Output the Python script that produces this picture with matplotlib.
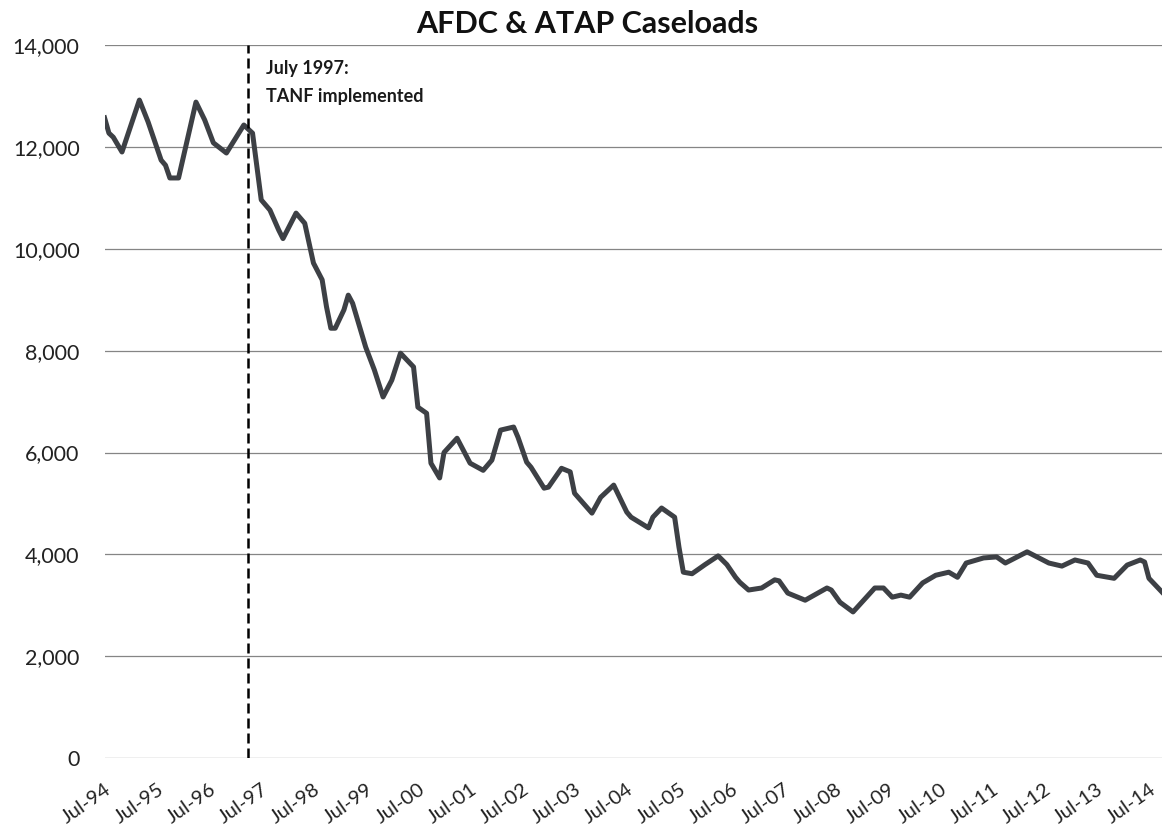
import matplotlib
matplotlib.use('Agg')
import matplotlib.pyplot as plt
import numpy as np

# Data =================================================================================================
# months counted from Jul-94 (0 = Jul-94)
months = [0, 1, 2, 4, 8, 10, 13, 14, 15, 17, 21, 23, 25, 28, 32, 34, 36, 38, 40, 41,
          44, 46, 48, 50, 51, 52, 53, 55, 56, 57, 60, 62, 64, 66, 68, 71, 72, 74, 75, 77,
          78, 81, 84, 87, 89, 91, 94, 95, 97, 98, 101, 102, 105, 107, 108, 112, 114, 117, 120, 121,
          125, 126, 128, 131, 132, 133, 135, 138, 141, 143, 145, 146, 148, 151, 154, 155, 157, 161, 166, 167,
          169, 172, 177, 179, 181, 183, 185, 188, 191, 194, 196, 198, 202, 205, 207, 212, 217, 220, 223, 226,
          228, 232, 235, 238, 239, 240, 241, 243]
caseloads = [12570, 12270, 12190, 11900, 12920, 12490, 11740, 11640, 11390, 11390,
             12880, 12530, 12080, 11880, 12430, 12270, 10960, 10760, 10370, 10200,
             10700, 10500, 9720, 9390, 8860, 8440, 8440, 8800, 9090, 8930,
             8070, 7620, 7090, 7420, 7950, 7680, 6890, 6770, 5790, 5500,
             6000, 6280, 5790, 5650, 5850, 6440, 6500, 6300, 5810, 5710,
             5300, 5320, 5690, 5620, 5200, 4810, 5120, 5360, 4830, 4730,
             4520, 4730, 4910, 4730, 4140, 3650, 3620, 3800, 3970, 3800,
             3550, 3450, 3300, 3340, 3500, 3480, 3240, 3100, 3340, 3300,
             3060, 2870, 3340, 3340, 3160, 3200, 3160, 3440, 3590, 3650,
             3550, 3830, 3930, 3950, 3830, 4050, 3830, 3770, 3890, 3830,
             3590, 3530, 3790, 3890, 3850, 3530, 3440, 3260]

tick_pos = list(range(0, 241, 12))
tick_labels = ['Jul-94', 'Jul-95', 'Jul-96', 'Jul-97', 'Jul-98', 'Jul-99', 'Jul-00',
               'Jul-01', 'Jul-02', 'Jul-03', 'Jul-04', 'Jul-05', 'Jul-06', 'Jul-07',
               'Jul-08', 'Jul-09', 'Jul-10', 'Jul-11', 'Jul-12', 'Jul-13', 'Jul-14']
y_ticks = [0, 2000, 4000, 6000, 8000, 10000, 12000, 14000]

tanf_month = 33  # where the dashed marker sits in the picture
#======================================================================================================

plt.rcParams['font.family'] = ['Lato', 'DejaVu Sans']

fig = plt.figure(figsize=(11.62, 8.34), dpi=100)
ax = fig.add_axes([0.090, 0.091, 0.910, 0.855])

# grid lines
for yv in y_ticks:
    ax.axhline(yv, color='#858585', linewidth=0.9, zorder=1)

# caseload line
ax.plot(months, caseloads, color='#3d4045', linewidth=3.6, solid_joinstyle='round', zorder=3)

# TANF marker
ax.plot([tanf_month, tanf_month], [0, 14000], color='black', linestyle=(0, (4, 2)), linewidth=1.8, zorder=4)
ax.text(tanf_month + 4, 13700, 'July 1997:\nTANF implemented', fontsize=13, fontweight='bold',
        va='top', ha='left', color='#1a1a1a', linespacing=1.75)

ax.set_xlim(0, 243)
ax.set_ylim(0, 14000)
ax.set_yticks(y_ticks)
ax.set_yticklabels(['{:,}'.format(v) for v in y_ticks], fontsize=15.5, color='#222222')
ax.set_xticks(tick_pos)
ax.set_xticklabels(tick_labels, fontsize=14.5, color='#222222', rotation=35,
                   ha='right', va='top', rotation_mode='anchor')
ax.tick_params(length=0)
ax.tick_params(axis='y', pad=18)
ax.tick_params(axis='x', pad=16)
for s in ax.spines.values():
    s.set_visible(False)

fig.text(0.505, 0.961, 'AFDC & ATAP Caseloads', fontsize=22, fontweight='bold', ha='center',
         va='baseline', color='#111111')

plt.savefig('out.png', dpi=100)
